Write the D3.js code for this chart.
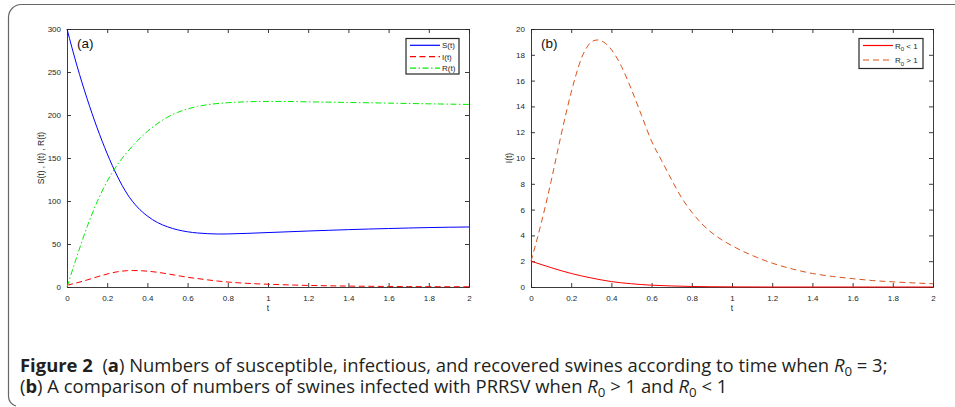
<!DOCTYPE html>
<html>
<head>
<meta charset="utf-8">
<script src="https://cdn.jsdelivr.net/npm/d3@7"></script>
<style>
  html, body { margin: 0; padding: 0; background: #fff; }
  svg { display: block; }
  .tick text { font-family: "Liberation Sans", Arial, sans-serif; font-size: 8px; fill: #262626; }
  .cap text { white-space: pre; }
</style>
</head>
<body>
<svg id="fig" width="955" height="407"></svg>
<script>
// x ticks shared by both panels
const tTicks = [0, 0.2, 0.4, 0.6, 0.8, 1, 1.2, 1.4, 1.6, 1.8, 2];
const ticksA = [0, 50, 100, 150, 200, 250, 300];
const ticksB = [0, 2, 4, 6, 8, 10, 12, 14, 16, 18, 20];

// panel (a): S(t) and R(t)
const tS = [0, 0.05, 0.1, 0.15, 0.2, 0.25, 0.3, 0.35, 0.4, 0.45, 0.5, 0.55, 0.6, 0.65, 0.7, 0.75, 0.8, 0.9, 1.0, 1.1, 1.2, 1.3, 1.4, 1.5, 1.6, 1.7, 1.8, 1.9, 2.0];
const sVals = [300, 257, 219, 185, 155, 129, 108, 93, 82.5, 75, 70, 66.5, 64.2, 62.8, 62, 61.6, 61.7, 62.4, 63.3, 64.2, 65.1, 65.9, 66.7, 67.4, 68, 68.6, 69.1, 69.5, 69.8];
const tR = [0, 0.05, 0.1, 0.15, 0.2, 0.25, 0.3, 0.35, 0.4, 0.45, 0.5, 0.55, 0.6, 0.65, 0.7, 0.8, 0.9, 1.0, 1.1, 1.2, 1.4, 1.6, 1.8, 2.0];
const rVals = [0, 36, 70, 99, 123, 142, 157, 170, 181, 190, 197.5, 203, 207, 210, 212, 214.3, 215.4, 215.8, 215.7, 215.3, 214.6, 213.8, 213, 212.3];

// I(t) for R0 = 3 (dashed in both panels)
const tI = [0, 0.025, 0.05, 0.075, 0.1, 0.125, 0.15, 0.175, 0.2, 0.225, 0.25, 0.275, 0.3, 0.33, 0.36, 0.4, 0.45, 0.5, 0.55, 0.6, 0.65, 0.7, 0.75, 0.8, 0.85, 0.9, 0.95, 1.0, 1.1, 1.2, 1.3, 1.4, 1.5, 1.6, 1.7, 1.8, 1.9, 2.0];
const iHigh = [2, 3.4, 4.9, 6.5, 8.2, 10.0, 11.8, 13.5, 15.1, 16.5, 17.7, 18.5, 19.0, 19.15, 19.0, 18.4, 17.1, 15.3, 13.3, 11.3, 9.8, 8.3, 6.9, 5.8, 4.9, 4.2, 3.65, 3.2, 2.45, 1.85, 1.4, 1.05, 0.82, 0.65, 0.5, 0.4, 0.32, 0.25];

// I(t) for R0 < 1 (solid red in panel b)
const tLow = [0, 0.1, 0.2, 0.3, 0.4, 0.5, 0.6, 0.7, 0.8, 1.0, 1.2, 1.6, 2.0];
const iLow = [2, 1.5, 1.05, 0.7, 0.42, 0.25, 0.14, 0.08, 0.04, 0.01, 0, 0, 0];

const svg = d3.select('#fig');

// rounded frame round the figure (left and top sides only)
svg.append('path')
  .attr('d', 'M955,4.5 H21 A13,13 0 0 0 8.5,17 V396 A10,10 0 0 0 16,406')
  .attr('fill', 'none')
  .attr('stroke', '#666')
  .attr('stroke-width', 1.2);

const tickFmt = d => d === 0 ? '0' : d3.format('~g')(d);

function panel(opts) {
  const x = d3.scaleLinear().domain([0, 2]).range(opts.xr);
  const y = d3.scaleLinear().domain([0, opts.ymax]).range(opts.yr);
  const g = svg.append('g');

  // mirrored axes (top/right), ticks only
  g.append('g').attr('transform', 'translate(0,' + opts.yr[1] + ')')
    .call(d3.axisTop(x).tickValues(tTicks).tickSize(-4).tickFormat(''));
  g.append('g').attr('transform', 'translate(' + opts.xr[1] + ',0)')
    .call(d3.axisRight(y).tickValues(opts.yticks).tickSize(-4).tickFormat(''));

  g.append('g').attr('transform', 'translate(0,' + opts.yr[0] + ')')
    .call(d3.axisBottom(x).tickValues(tTicks).tickSizeInner(-4).tickSizeOuter(0).tickPadding(8).tickFormat(tickFmt));
  g.append('g').attr('transform', 'translate(' + opts.xr[0] + ',0)')
    .call(d3.axisLeft(y).tickValues(opts.yticks).tickSizeInner(-4).tickSizeOuter(0).tickPadding(6).tickFormat(tickFmt));

  g.selectAll('.domain').attr('stroke', '#262626').attr('stroke-width', 0.9);
  g.selectAll('.tick line').attr('stroke', '#262626').attr('stroke-width', 0.9);

  const line = d3.line().x(d => x(d[0])).y(d => y(d[1])).curve(d3.curveMonotoneX);
  opts.series.forEach(s => {
    g.append('path')
      .datum(s.t.map((t, i) => [t, s.v[i]]))
      .attr('d', line)
      .attr('fill', 'none')
      .attr('stroke', s.color)
      .attr('stroke-width', 1)
      .attr('stroke-dasharray', s.dash || null);
  });

  // panel letter
  g.append('text').attr('x', opts.xr[0] + 10).attr('y', opts.yr[1] + 19)
    .attr('font-family', 'Liberation Sans, Arial, sans-serif').attr('font-size', 13.5)
    .attr('fill', '#111').text(opts.letter);

  // axis labels
  g.append('text').attr('x', (opts.xr[0] + opts.xr[1]) / 2).attr('y', 311)
    .attr('text-anchor', 'middle')
    .attr('font-family', 'Liberation Sans, Arial, sans-serif').attr('font-size', 8.5)
    .attr('fill', '#262626').text('t');
  g.append('text')
    .attr('transform', 'translate(' + opts.ylabX + ',' + (opts.yr[0] + opts.yr[1]) / 2 + ') rotate(-90)')
    .attr('text-anchor', 'middle')
    .attr('font-family', 'Liberation Sans, Arial, sans-serif').attr('font-size', 8.5)
    .attr('fill', '#262626').text(opts.ylabel);

  // legend
  const L = opts.legend;
  const lg = g.append('g');
  lg.append('rect').attr('x', L.x).attr('y', L.y).attr('width', L.w).attr('height', L.h)
    .attr('fill', '#fff').attr('stroke', '#262626').attr('stroke-width', 1.2);
  opts.series.forEach((s, i) => {
    const yy = L.y + L.row0 + i * L.dy;
    lg.append('line').attr('x1', L.x + 4).attr('x2', L.x + 34).attr('y1', yy).attr('y2', yy)
      .attr('stroke', s.color).attr('stroke-width', 1.2).attr('stroke-dasharray', s.dash || null);
    const tx = lg.append('text').attr('x', L.x + 36).attr('y', yy + 3)
      .attr('font-family', 'Liberation Sans, Arial, sans-serif').attr('font-size', 8)
      .attr('fill', '#262626');
    if (s.sub) {
      tx.append('tspan').text('R');
      tx.append('tspan').attr('font-size', 6).attr('dy', 2.5).text('0');
      tx.append('tspan').attr('dy', -2.5).text(s.sub);
    } else {
      tx.text(s.label);
    }
  });
}

panel({
  xr: [67, 469], yr: [287, 29], ymax: 300, yticks: ticksA, letter: '(a)',
  ylabel: 'S(t) , I(t) , R(t)', ylabX: 44,
  legend: { x: 406, y: 38.5, w: 53, h: 35.5, row0: 6.8, dy: 11.4 },
  series: [
    { t: tS, v: sVals, color: '#0000ff', label: 'S(t)' },
    { t: tI, v: iHigh, color: '#ff0000', dash: '6,3.5', label: 'I(t)' },
    { t: tR, v: rVals, color: '#00ee00', dash: '6,2.5,1.5,2.5', label: 'R(t)' }
  ]
});

panel({
  xr: [531, 933], yr: [287, 29], ymax: 20, yticks: ticksB, letter: '(b)',
  ylabel: 'I(t)', ylabX: 512,
  legend: { x: 859, y: 38.5, w: 64, h: 30, row0: 7, dy: 14.5 },
  series: [
    { t: tLow, v: iLow, color: '#ff0000', sub: ' < 1' },
    { t: tI, v: iHigh, color: '#d95319', dash: '6,4', sub: ' > 1' }
  ]
});

// caption: each styled run is its own text, laid side by side
const capParts1 = [
  { text: 'Figure 2', bold: true }, { text: '  (' }, { text: 'a', bold: true },
  { text: ') Numbers of susceptible, infectious, and recovered swines according to time when ' },
  { text: 'R', italic: true }, { text: '0', sub: true }, { text: ' = 3;' }
];
const capParts2 = [
  { text: '(' }, { text: 'b', bold: true },
  { text: ') A comparison of numbers of swines infected with PRRSV when ' },
  { text: 'R', italic: true }, { text: '0', sub: true }, { text: ' > 1 and ' },
  { text: 'R', italic: true }, { text: '0', sub: true }, { text: ' < 1' }
];
const cap = svg.append('g').attr('class', 'cap');
function capLine(y, parts, fs) {
  const g = cap.append('g');
  let x = 20;
  parts.forEach(p => {
    const t = g.append('text').attr('x', x).attr('y', p.sub ? y + 4 : y)
      .attr('font-family', 'Open Sans, sans-serif')
      .attr('font-size', p.sub ? fs * 0.72 : fs)
      .attr('font-weight', p.bold ? 700 : 400)
      .attr('font-style', p.italic ? 'italic' : 'normal')
      .attr('fill', '#231f20')
      .text(p.text);
    x += t.node().getComputedTextLength();
  });
  return { g, w: x - 20 };
}
const probe = capLine(372, capParts1, 18);
const fs = 18 * 868 / probe.w;
probe.g.remove();
capLine(372, capParts1, fs);
capLine(393, capParts2, fs);
</script>
</body>
</html>
